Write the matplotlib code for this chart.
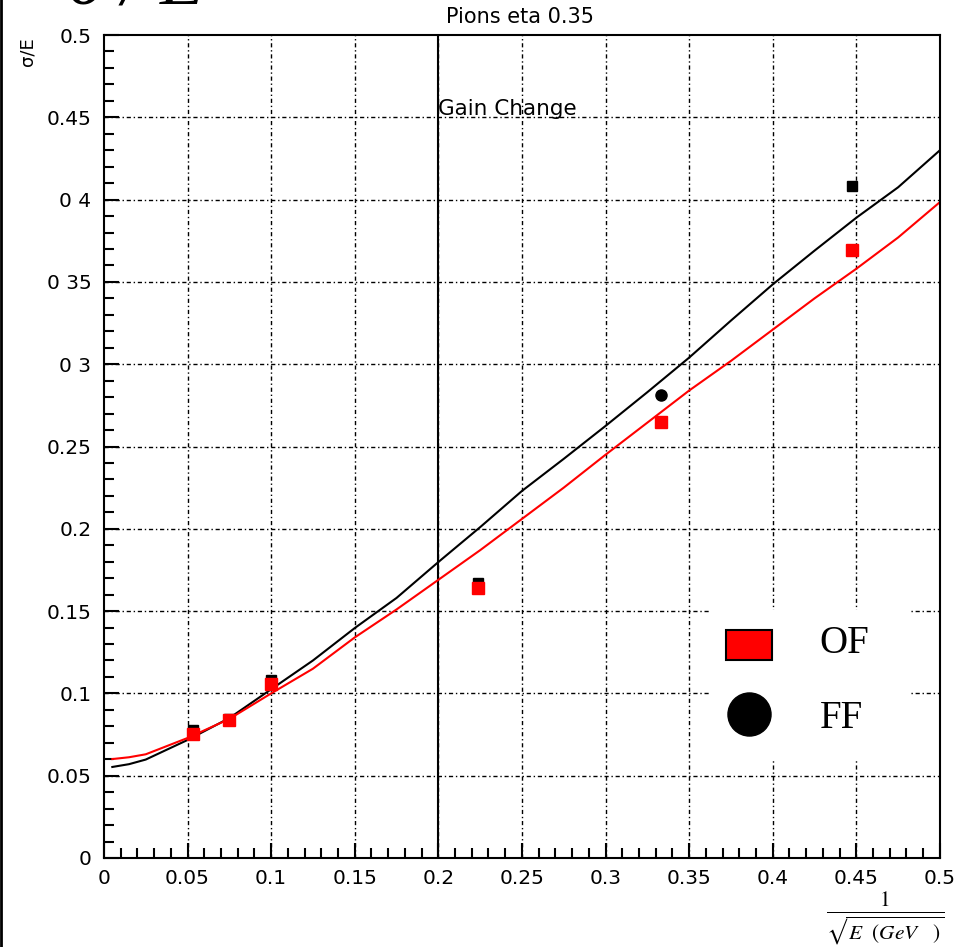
import numpy as np
import matplotlib
matplotlib.use("Agg")
import matplotlib.pyplot as plt
from matplotlib.patches import Rectangle
from matplotlib.lines import Line2D

# measured points, x = 1/sqrt(E)
energy_x = [0.0535, 0.0745, 0.1, 0.2236, 0.3333, 0.4472]
ff_sigma = [0.0778, 0.0845, 0.108, 0.167, 0.2813, 0.408]
of_sigma = [0.0755, 0.0838, 0.1057, 0.164, 0.2649, 0.3694]

# fitted curves
curve_x = [0.005, 0.015, 0.025, 0.05, 0.075, 0.1, 0.125, 0.15, 0.175, 0.2, 0.225, 0.25,
           0.275, 0.3, 0.325, 0.35, 0.375, 0.4, 0.425, 0.45, 0.475, 0.5]
ff_curve = [0.0553, 0.0570, 0.0598, 0.0717, 0.0850, 0.1025, 0.1200, 0.1397, 0.1580,
            0.1798, 0.2010, 0.2230, 0.2425, 0.2625, 0.2830, 0.3040, 0.3265, 0.3485,
            0.3690, 0.3890, 0.4075, 0.4300]
of_curve = [0.0601, 0.0612, 0.0630, 0.0729, 0.0845, 0.1000, 0.1150, 0.1340, 0.1510,
            0.1690, 0.1870, 0.2060, 0.2250, 0.2450, 0.2645, 0.2840, 0.3020, 0.3210,
            0.3400, 0.3580, 0.3770, 0.3985]

x_ticks = [0, 0.05, 0.1, 0.15, 0.2, 0.25, 0.3, 0.35, 0.4, 0.45, 0.5]
x_labels = ["0", "0.05", "0.1", "0.15", "0.2", "0.25", "0.3", "0.35", "0.4", "0.45", "0.5"]
y_ticks = [0, 0.05, 0.1, 0.15, 0.2, 0.25, 0.3, 0.35, 0.4, 0.45, 0.5]
y_labels = ["0", "0.05", "0.1", "0.15", "0.2", "0.25", "0 3", "0 35", "0 4", "0.45", "0.5"]

gain_change_x = 0.2

fig = plt.figure(figsize=(9.67, 9.47), dpi=100)
ax = fig.add_axes([0.1075, 0.094, 0.8645, 0.869])
ax.set_xlim(0, 0.5)
ax.set_ylim(0, 0.5)

grid_style = dict(color="black", linewidth=1.0, linestyle=(0, (3, 2, 1, 2)), zorder=1)
for v in x_ticks[1:-1]:
    ax.axvline(v, **grid_style)
for v in y_ticks[1:-1]:
    ax.axhline(v, **grid_style)

ax.axvline(gain_change_x, color="black", linewidth=1.5, zorder=2)
ax.text(gain_change_x, 0.449, "Gain Change", fontsize=15.5, ha="left", va="bottom", zorder=3)

ax.plot(curve_x, ff_curve, color="black", linewidth=1.5, zorder=3)
ax.plot(curve_x, of_curve, color="red", linewidth=1.5, zorder=3)

ff_x = np.array(energy_x)
ff_y = np.array(ff_sigma)
round_pt = 4
square_idx = [i for i in range(len(ff_x)) if i != round_pt]
ax.plot(ff_x[square_idx], ff_y[square_idx], "s", color="black", markersize=7, zorder=4)
ax.plot(ff_x[round_pt], ff_y[round_pt], "o", color="black", markersize=8, zorder=4)
ax.plot(energy_x, of_sigma, "s", color="red", markersize=8, zorder=5)

# legend drawn by hand
ax.add_patch(Rectangle((0.725, 0.119), 0.239, 0.182, transform=ax.transAxes,
                       facecolor="white", edgecolor="none", zorder=6))
ax.add_patch(Rectangle((0.744, 0.2406), 0.055, 0.0364, transform=ax.transAxes,
                       facecolor="red", edgecolor="black", linewidth=1.5, zorder=7))
ax.add_line(Line2D([0.7715], [0.175], marker="o", markersize=31, color="black",
                   transform=ax.transAxes, zorder=7))
ax.text(0.856, 0.261, "OF", transform=ax.transAxes, fontsize=28, family="Liberation Serif",
        va="center", ha="left", zorder=7)
ax.text(0.856, 0.170, "FF", transform=ax.transAxes, fontsize=28, family="Liberation Serif",
        va="center", ha="left", zorder=7)

ax.set_xticks(x_ticks, x_labels)
ax.set_yticks(y_ticks, y_labels)
ax.set_xticks(np.arange(0, 0.501, 0.01), minor=True)
ax.set_yticks(np.arange(0, 0.501, 0.01), minor=True)
ax.tick_params(which="both", direction="in", width=1.5, labelsize=14.5, top=False, right=False)
ax.tick_params(which="major", length=11)
ax.tick_params(which="minor", length=7)
ax.tick_params(axis="x", pad=8)
ax.tick_params(axis="y", pad=9)
for s in ax.spines.values():
    s.set_linewidth(1.5)
    s.set_zorder(8)

fig.text(0.538, 0.982, "Pions eta 0.35", fontsize=15, ha="center", va="center")
fig.text(0.028, 0.945, "σ/E", fontsize=13, rotation=90, ha="center", va="center")
fig.text(0.07, 1.015, "σ / E", fontsize=52, family="Liberation Serif", style="italic",
         ha="left", va="center")
fig.text(0.915, 0.030, r"$\frac{1}{\sqrt{E\ \ (GeV\ \ \ )}}$", fontsize=22, ha="center",
         va="center", math_fontfamily="stix")
fig.add_artist(Line2D([0.001, 0.001], [0, 1], color="black", linewidth=2,
                      transform=fig.transFigure))

fig.savefig("out.png", dpi=100)
